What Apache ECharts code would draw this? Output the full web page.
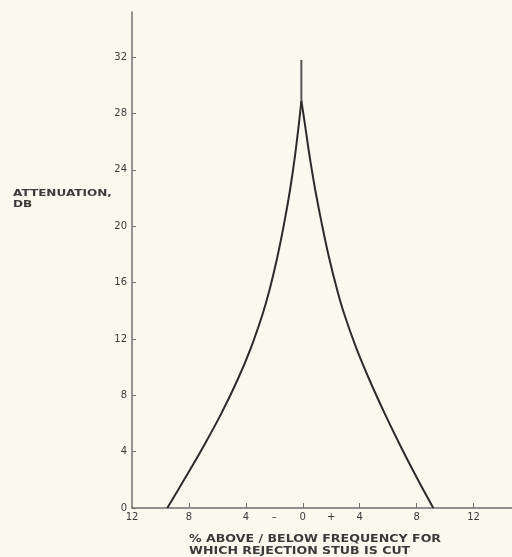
<!DOCTYPE html>
<html>
<head>
<meta charset="utf-8">
<title>Attenuation vs frequency offset</title>
<script src="https://cdn.jsdelivr.net/npm/echarts@6/dist/echarts.min.js"></script>
<style>
  html, body { margin: 0; padding: 0; background: #fbf9ee; }
  #chart { width: 512px; height: 557px; }
</style>
</head>
<body>
<div id="chart"></div>
<script>
// values: [% off frequency, attenuation dB]
const belowBranch = [
  [-9.52, 0], [-8.34, 2.0], [-6.99, 4.35], [-5.73, 6.7], [-4.58, 9.1],
  [-3.63, 11.4], [-2.81, 13.8], [-2.33, 15.5], [-1.79, 17.8], [-1.31, 20.2],
  [-0.9, 22.55], [-0.56, 24.9], [-0.27, 27.3], [-0.1, 28.9]
];
const aboveBranch = [
  [-0.1, 28.9], [0.14, 27.3], [0.49, 24.9], [0.88, 22.55], [1.33, 20.2],
  [1.84, 17.8], [2.41, 15.5], [2.9, 13.8], [3.74, 11.4], [4.68, 9.1],
  [5.76, 6.7], [6.89, 4.35], [8.09, 2.0], [9.17, 0]
];
const peakSpike = [[-0.1, 28.9], [-0.1, 31.8]];

const yTicks = [0, 4, 8, 12, 16, 20, 24, 28, 32];
const xTicks = [-8, -4, 0, 4, 8, 12];
const xLabels = [-12, -8, -4, -2, 0, 2, 4, 8, 12];

const INK = "#2b2b2b";
const AXIS = "#707070";
const LABEL = "#3a3a3a";
const FONT = "DejaVu Sans";

const chart = echarts.init(document.getElementById("chart"));

function branch(data) {
  return {
    type: "line",
    data: data,
    smooth: 0.4,
    showSymbol: false,
    lineStyle: { color: INK, width: 2 },
    z: 3
  };
}

const option = {
  animation: false,
  backgroundColor: "#fbf9ee",
  grid: { left: 132, right: 0, top: 12, bottom: 49 },
  xAxis: {
    type: "value",
    min: -12,
    max: 14.7,
    axisLine: { onZero: false, lineStyle: { color: AXIS, width: 1.5 } },
    splitLine: { show: false },
    axisTick: {
      inside: true,
      length: 5,
      customValues: xTicks,
      lineStyle: { color: AXIS }
    },
    axisLabel: {
      customValues: xLabels,
      margin: 4,
      color: LABEL,
      fontFamily: FONT,
      fontSize: 10,
      formatter: v => (v === -2 ? "–" : v === 2 ? "+" : String(Math.abs(v)))
    }
  },
  yAxis: {
    type: "value",
    min: 0,
    max: 35.2,
    axisLine: { show: true, onZero: false, lineStyle: { color: AXIS, width: 1.5 } },
    splitLine: { show: false },
    axisTick: {
      show: true,
      inside: true,
      length: 4,
      customValues: yTicks,
      lineStyle: { color: AXIS }
    },
    axisLabel: {
      customValues: yTicks,
      margin: 5,
      color: LABEL,
      fontFamily: FONT,
      fontSize: 10
    }
  },
  graphic: [
    {
      // axis titles are hand lettered and wide, so stretch them sideways
      type: "text",
      x: 13,
      y: 188,
      scaleX: 1.34,
      style: {
        text: "ATTENUATION,\nDB",
        fill: LABEL,
        font: "bold 9px 'DejaVu Sans'",
        lineHeight: 11,
        verticalAlign: "top"
      }
    },
    {
      type: "text",
      x: 189,
      y: 533,
      scaleX: 1.26,
      style: {
        text: "% ABOVE / BELOW FREQUENCY FOR\nWHICH REJECTION STUB IS CUT",
        fill: LABEL,
        font: "bold 10px 'DejaVu Sans'",
        lineHeight: 12.5,
        verticalAlign: "top"
      }
    }
  ],
  series: [
    branch(belowBranch),
    branch(aboveBranch),
    {
      type: "line",
      data: peakSpike,
      showSymbol: false,
      lineStyle: { color: "#555", width: 2 },
      z: 3
    }
  ]
};

chart.setOption(option);
</script>
</body>
</html>
